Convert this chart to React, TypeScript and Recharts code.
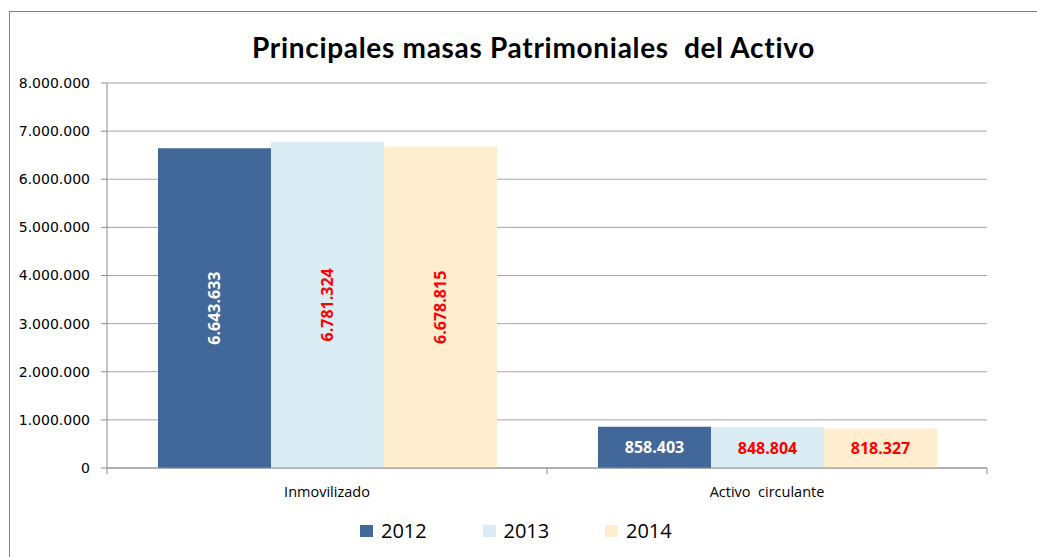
import React from 'react';
import { BarChart, Bar, XAxis, YAxis, CartesianGrid, Legend, LabelList } from 'recharts';

const title = 'Principales masas Patrimoniales  del Activo';
const categories = ['Inmovilizado', 'Activo  circulante'];
const years = ['2012', '2013', '2014'];
const values2012 = [6643633, 858403];
const values2013 = [6781324, 848804];
const values2014 = [6678815, 818327];
const yTicks = [0, 1000000, 2000000, 3000000, 4000000, 5000000, 6000000, 7000000, 8000000];
const seriesColors = ['#416899', '#DAEDF4', '#FEEECF'];
const labelColors = ['#FFFFFF', '#FF0000', '#FF0000'];

const seriesValues = [values2012, values2013, values2014];
const data = categories.map((c, i) => {
  const row: Record<string, any> = { name: c };
  years.forEach((y, k) => {
    row['y' + y] = seriesValues[k][i];
  });
  return row;
});

const fmt = (v: number) => String(Math.round(Number(v))).replace(/\B(?=(\d{3})+(?!\d))/g, '.');

const makeLabel = (color: string) => (props: any) => {
  const x = Number(props.x), y = Number(props.y), w = Number(props.width), h = Number(props.height);
  const cx = x + w / 2;
  const cy = y + h / 2;
  const vertical = h > 150;
  return (
    <text
      x={cx}
      y={cy}
      fill={color}
      fontSize={16}
      fontWeight={700}
      fontFamily="'Open Sans', sans-serif"
      textAnchor="middle"
      dominantBaseline="central"
      transform={vertical ? `rotate(-90 ${cx} ${cy})` : undefined}
    >
      {fmt(props.value)}
    </text>
  );
};

const XTick = (props: any) => {
  const { x, y, payload, index, visibleTicksCount } = props;
  const off = payload && payload.offset != null ? payload.offset : 0;
  const isLast = index === (visibleTicksCount ?? categories.length) - 1;
  return (
    <g>
      <line x1={x - off} x2={x - off} y1={y} y2={y + 6} stroke="#8C8C8C" />
      {isLast && <line x1={x + off} x2={x + off} y1={y} y2={y + 6} stroke="#8C8C8C" />}
      <text
        x={x}
        y={y + 23}
        textAnchor="middle"
        dominantBaseline="central"
        fontSize={14.5}
        fontFamily="'Open Sans', sans-serif"
        fill="#000"
        style={{ whiteSpace: 'pre' }}
      >
        {payload.value}
      </text>
    </g>
  );
};

const LegendContent = () => (
  <div style={{ display: 'flex', alignItems: 'center', height: 32, paddingLeft: 360 }}>
    {years.map((y, k) => (
      <div key={y} style={{ display: 'flex', alignItems: 'center', width: 122.5 }}>
        <span style={{ display: 'inline-block', width: 13, height: 12, background: seriesColors[k], marginRight: 8 }} />
        <span style={{ fontFamily: "'Open Sans', sans-serif", fontSize: 20, color: '#000', lineHeight: '32px' }}>{y}</span>
      </div>
    ))}
  </div>
);

export default function App() {
  return (
    <div style={{ position: 'absolute', left: 0, top: 0, width: 1037, height: 557, overflow: 'hidden', background: '#fff' }}>
      <div style={{ position: 'absolute', left: 9, top: 11, width: 1100, height: 600, borderLeft: '1px solid #7F7F7F', borderTop: '1px solid #7F7F7F' }} />
      <div style={{ position: 'absolute', left: 0, top: 29, width: 1067, textAlign: 'center', fontFamily: "Lato, sans-serif", fontWeight: 700, fontSize: 28, letterSpacing: 0.7, lineHeight: '36px', color: '#000', whiteSpace: 'pre' }}>
        {title}
      </div>
      <div style={{ position: 'absolute', left: 0, top: 0 }}>
        <BarChart
          width={1037}
          height={557}
          data={data}
          margin={{ top: 83, right: 50, left: 7, bottom: 27 }}
          barCategoryGap={51}
          barGap={0}
        >
          <CartesianGrid vertical={false} stroke="#A6A6A6" />
          <XAxis
            dataKey="name"
            height={30}
            axisLine={{ stroke: '#8C8C8C' }}
            tickLine={false}
            tickSize={0}
            tickMargin={0}
            tick={<XTick />}
            interval={0}
          />
          <YAxis
            width={100}
            domain={[0, 8000000]}
            ticks={yTicks}
            tickFormatter={fmt}
            axisLine={{ stroke: '#8C8C8C' }}
            tickLine={{ stroke: '#8C8C8C' }}
            tickSize={6}
            tickMargin={11}
            tick={{ fill: '#000', fontSize: 14, fontFamily: "'DejaVu Sans', sans-serif" }}
            allowDataOverflow
          />
          <Legend verticalAlign="bottom" wrapperStyle={{ left: 0, top: 515, width: 1037, height: 32 }} content={<LegendContent />} />
          {years.map((y, k) => (
            <Bar key={y} dataKey={'y' + y} name={y} fill={seriesColors[k]} isAnimationActive={false}>
              <LabelList dataKey={'y' + y} content={makeLabel(labelColors[k])} />
            </Bar>
          ))}
        </BarChart>
      </div>
    </div>
  );
}
